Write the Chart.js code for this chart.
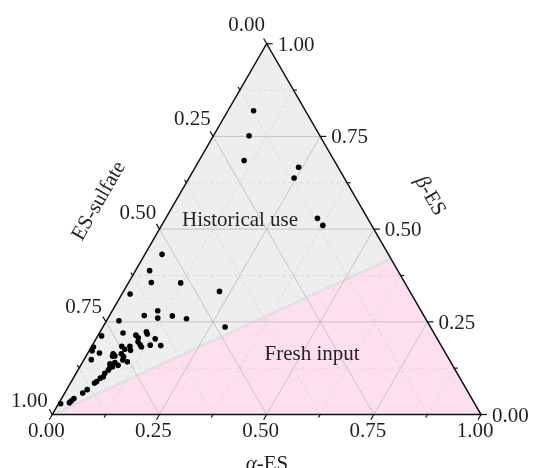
<!DOCTYPE html>
<html lang="en">
<head>
<meta charset="UTF-8">
<title>ES ternary plot</title>
<script src="https://cdn.jsdelivr.net/npm/chart.js"></script>
<style>
  html, body { margin: 0; padding: 0; background: #fff; }
  #wrap { width: 534px; height: 468px; position: relative; }
</style>
</head>
<body>
<div id="wrap"><canvas id="chart"></canvas></div>
<script>
// sample composition (fractions; ES-sulfate = 1 - alpha - beta)
const alphaES = [
  0.060, 0.083, 0.105, 0.241, 0.245, 0.354, 0.376,
  0.040, 0.033, 0.053, 0.122, 0.224, 0.019, 0.106, 0.081, 0.116, 0.147, 0.184, 0.029, 0.285,
  0.009, 0.055, 0.088, 0.097, 0.108, 0.113, 0.138, 0.160, 0.135, 0.102, 0.111, 0.117,
  0.089, 0.096, 0.070, 0.081, 0.060, 0.062, 0.067, 0.005, 0.007, 0.027, 0.017, 0.079,
  0.088, 0.091, 0.104, 0.087, 0.076, 0.066, 0.076, 0.071, 0.071, 0.067, 0.068, 0.063,
  0.059, 0.056, 0.048, 0.042, 0.029, 0.026, 0.024, 0.005
];
const betaES = [
  0.819, 0.752, 0.685, 0.667, 0.638, 0.529, 0.510,
  0.432, 0.388, 0.356, 0.355, 0.332, 0.325, 0.280, 0.267, 0.260, 0.266, 0.258, 0.253, 0.236,
  0.212, 0.220, 0.214, 0.207, 0.223, 0.217, 0.204, 0.186, 0.187, 0.196, 0.188, 0.182,
  0.184, 0.173, 0.184, 0.176, 0.164, 0.157, 0.158, 0.182, 0.172, 0.166, 0.148, 0.164,
  0.156, 0.147, 0.142, 0.133, 0.140, 0.137, 0.129, 0.120, 0.126, 0.111, 0.102, 0.098,
  0.089, 0.085, 0.067, 0.058, 0.043, 0.037, 0.032, 0.029
];

const tickValues = [0, 0.25, 0.5, 0.75, 1];
const tickLabels = ['0.00', '0.25', '0.50', '0.75', '1.00'];
const minorStep = 0.125;

// "Fresh input" zone: below the line from the ES-sulfate corner to beta = 0.42 on the right side
const freshBoundaryBeta = 0.42;

const regionNames = ['Historical use', 'Fresh input'];
const regionAlpha = [0.184, 0.533];
const regionBeta = [0.508, 0.146];

const H = Math.sqrt(3) / 2;
const FONT = '"Liberation Serif", "Times New Roman", serif';
const TEXT = '#231f20';

const points = alphaES.map((a, i) => ({ x: a + betaES[i] / 2, y: betaES[i] * H }));

const ternary = {
  id: 'ternary',
  beforeDatasetsDraw(chart) {
    const ctx = chart.ctx;
    const xs = chart.scales.x, ys = chart.scales.y;
    const P = (a, b) => [xs.getPixelForValue(a + b / 2), ys.getPixelForValue(b * H)];
    const poly = (pts, fill) => {
      ctx.beginPath();
      pts.forEach((p, i) => i ? ctx.lineTo(p[0], p[1]) : ctx.moveTo(p[0], p[1]));
      ctx.closePath();
      ctx.fillStyle = fill;
      ctx.fill();
    };
    const line = (p, q) => {
      ctx.beginPath();
      ctx.moveTo(p[0], p[1]);
      ctx.lineTo(q[0], q[1]);
      ctx.stroke();
    };
    ctx.save();
    // backgrounds
    poly([P(0, 0), P(1, 0), P(0, 1)], '#eeeeee');
    const fb = freshBoundaryBeta;
    poly([P(0, 0), P(1, 0), P(1 - fb, fb)], '#fddff0');
    ctx.strokeStyle = '#d6d6d6';
    ctx.lineWidth = 2;
    line(P(0, 0), P(1 - fb, fb));
    ctx.strokeStyle = '#f6f6f6';
    ctx.lineWidth = 0.6;
    line(P(0, 0), P(1 - fb, fb));

    // grid
    for (let v = minorStep; v < 1 - 1e-9; v += minorStep) {
      const major = Math.abs(v * 4 - Math.round(v * 4)) < 1e-9;
      ctx.lineWidth = 0.8;
      if (major) { ctx.strokeStyle = '#b9b9b9'; ctx.setLineDash([]); }
      else { ctx.strokeStyle = '#d4d4d4'; ctx.setLineDash([3, 3]); }
      line(P(0, v), P(1 - v, v));        // constant beta
      line(P(v, 0), P(v, 1 - v));        // constant alpha
      line(P(1 - v, 0), P(0, 1 - v));    // constant ES-sulfate
    }
    ctx.setLineDash([]);

    // frame
    ctx.strokeStyle = '#111';
    ctx.lineWidth = 1.5;
    ctx.beginPath();
    const c = [P(0, 0), P(1, 0), P(0, 1)];
    ctx.moveTo(c[0][0], c[0][1]);
    ctx.lineTo(c[1][0], c[1][1]);
    ctx.lineTo(c[2][0], c[2][1]);
    ctx.closePath();
    ctx.stroke();

    // ticks
    ctx.lineWidth = 1.2;
    for (let v = 0; v <= 1 + 1e-9; v += minorStep) {
      const major = Math.abs(v * 4 - Math.round(v * 4)) < 1e-9;
      const len = major ? 6 : 3.5;
      const ticks = [
        [P(v, 0), [-0.5, H]],          // alpha (bottom)
        [P(1 - v, v), [1, 0]],         // beta (right)
        [P(0, 1 - v), [-0.5, -H]]      // ES-sulfate (left)
      ];
      ticks.forEach(([p, d]) => line(p, [p[0] + d[0] * len, p[1] + d[1] * len]));
    }
    ctx.restore();
  },
  afterDatasetsDraw(chart) {
    const ctx = chart.ctx;
    const xs = chart.scales.x, ys = chart.scales.y;
    const P = (a, b) => [xs.getPixelForValue(a + b / 2), ys.getPixelForValue(b * H)];
    ctx.save();
    ctx.fillStyle = TEXT;
    ctx.font = '21px ' + FONT;
    ctx.textBaseline = 'alphabetic';
    tickValues.forEach((v, i) => {
      let p = P(v, 0);
      ctx.textAlign = 'center';
      ctx.fillText(tickLabels[i], p[0] - 6, p[1] + 22);
      p = P(1 - v, v);
      ctx.textAlign = 'left';
      ctx.fillText(tickLabels[i], p[0] + 11, p[1] + 7);
      p = P(0, 1 - v);
      ctx.textAlign = 'center';
      ctx.fillText(tickLabels[i], p[0] - 20 - 3 * v, p[1] - 13 + 5 * v);
    });

    regionNames.forEach((t, i) => {
      const p = P(regionAlpha[i], regionBeta[i]);
      ctx.textAlign = 'center';
      ctx.fillText(t, p[0], p[1]);
    });

    // axis titles: italic greek letter followed by upright text
    const title = (parts, cx, cy, rot) => {
      ctx.save();
      ctx.translate(cx, cy);
      ctx.rotate(rot);
      ctx.textAlign = 'left';
      ctx.textBaseline = 'middle';
      let w = 0;
      parts.forEach(([t, it]) => {
        ctx.font = (it ? 'italic ' : '') + '21px ' + FONT;
        w += ctx.measureText(t).width;
      });
      let x = -w / 2;
      parts.forEach(([t, it]) => {
        ctx.font = (it ? 'italic ' : '') + '21px ' + FONT;
        ctx.fillText(t, x, 0);
        x += ctx.measureText(t).width;
      });
      ctx.restore();
    };
    title([['α', true], ['-ES', false]], 267, 464, 0);
    title([['β', true], ['-ES', false]], 430, 196, Math.PI / 3);
    title([['ES-sulfate', false]], 99, 201, -Math.PI / 3);
    ctx.restore();
  }
};

new Chart(document.getElementById('chart'), {
  type: 'scatter',
  data: {
    datasets: [{
      data: points,
      pointRadius: 2.8,
      pointHoverRadius: 2.8,
      backgroundColor: '#000',
      borderWidth: 0,
      clip: false
    }]
  },
  options: {
    responsive: true,
    maintainAspectRatio: false,
    animation: false,
    events: [],
    layout: { padding: 0 },
    plugins: { legend: { display: false }, tooltip: { enabled: false } },
    scales: {
      x: { type: 'linear', display: false, min: -0.1154, max: 1.1170 },
      y: { type: 'linear', display: false, min: -0.1184, max: 0.9616 }
    }
  },
  plugins: [ternary]
});
</script>
</body>
</html>
